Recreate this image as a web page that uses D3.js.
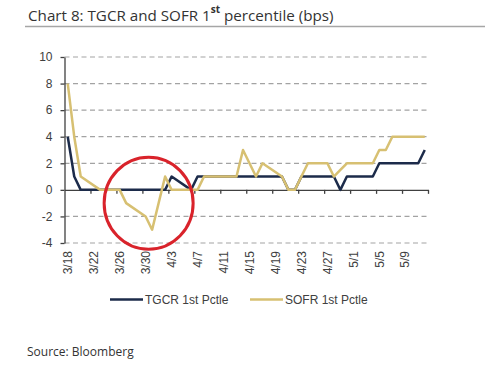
<!DOCTYPE html>
<html>
<head>
<meta charset="utf-8">
<script src="https://cdn.jsdelivr.net/npm/d3@7"></script>
<style>
  body { margin: 0; background: #fff; }
  svg { display: block; }
</style>
</head>
<body>
<svg></svg>
<script>
// business days, 2020
const dates = ['3/18', '3/19', '3/20', '3/23', '3/24', '3/25', '3/26', '3/27',
  '3/30', '3/31', '4/1', '4/2', '4/3', '4/6', '4/7', '4/8', '4/9', '4/10',
  '4/13', '4/14', '4/15', '4/16', '4/17', '4/20', '4/21', '4/22', '4/23', '4/24',
  '4/27', '4/28', '4/29', '4/30', '5/1', '5/4', '5/5', '5/6', '5/7', '5/8',
  '5/11', '5/12']
const tgcr = [4, 1, 0, 0, 0, 0, 0, 0,
  0, 0, 0, 0, 1, 0, 1, 1, 1, 1,
  1, 1, 1, 1, 1, 1, 0, 0, 1, 1,
  1, 1, 0, 1, 1, 1, 2, 2, 2, 2,
  2, 3]
const sofr = [8, 4, 1, 0, 0, 0, 0, -1,
  -2, -3, -1, 1, 0, 0, 0, 1, 1, 1,
  1, 3, 2, 1, 2, 1, 0, 0, 1, 2,
  2, 1, 1.5, 2, 2, 2, 3, 3, 4, 4,
  4, 4]
const xLabels = ['3/18', '3/22', '3/26', '3/30', '4/3', '4/7', '4/11', '4/15',
  '4/19', '4/23', '4/27', '5/1', '5/5', '5/9']
const yTicks = [-4, -2, 0, 2, 4, 6, 8, 10]
const lastDay = '5/12'

const width = 500
const height = 365
const navy = '#1c2b4a'
const gold = '#d7c072'
const ink = '#404040'

let parse = s => d3.utcParse('%Y/%m/%d')('2020/' + s)

let svg = d3.select('svg')
  .attr('width', width)
  .attr('height', height)

// days sit in the middle of their slot, ticks fall between slots
let xScale = d3.scaleUtc()
  .domain([d3.utcHour.offset(parse(dates[0]), -12), d3.utcHour.offset(parse(lastDay), 12)])
  .range([64.5, 428])

let yScale = d3.scaleLinear()
  .domain([-4, 10])
  .range([243, 57])

// gridlines
svg.append('g')
  .selectAll('line')
  .data(yTicks.filter(d => d !== 0))
  .enter()
  .append('line')
    .attr('x1', xScale.range()[0])
    .attr('x2', xScale.range()[1])
    .attr('y1', d => yScale(d))
    .attr('y2', d => yScale(d))
    .attr('stroke', '#a3a3a3')
    .attr('stroke-width', 1.2)
    .attr('stroke-dasharray', '5,3.5')

let yAxis = d3.axisLeft(yScale)
  .tickValues(yTicks)
  .tickSize(4)
  .tickSizeOuter(0)
  .tickPadding(8)
  .tickFormat(d => String(d))

let yG = svg.append('g')
  .attr('transform', `translate(${xScale.range()[0]}, 0)`)
  .call(yAxis)
yG.selectAll('path, line').attr('stroke', ink).attr('stroke-width', 1.3)
yG.selectAll('text')
  .attr('fill', ink)
  .style('font-family', '"Liberation Sans", Arial, sans-serif')
  .style('font-size', '12px')

let tickMarks = xLabels.slice(1).map(d => d3.utcHour.offset(parse(d), -12))
  .concat([xScale.domain()[1]])

let xAxis = d3.axisBottom(xScale)
  .tickValues(tickMarks)
  .tickSize(4)
  .tickSizeOuter(0)
  .tickFormat('')

let xG = svg.append('g')
  .attr('transform', `translate(0, ${yScale(0)})`)
  .call(xAxis)
xG.selectAll('path, line').attr('stroke', ink).attr('stroke-width', 1.3)

// rotated date labels below the plot
svg.append('g')
  .selectAll('text')
  .data(xLabels)
  .enter()
  .append('text')
    .attr('transform', d => `translate(${xScale(parse(d))}, ${yScale(-4) + 8}) rotate(-90)`)
    .attr('dy', '0.35em')
    .attr('text-anchor', 'end')
    .attr('fill', ink)
    .style('font-family', '"Liberation Sans", Arial, sans-serif')
    .style('font-size', '12px')
    .text(d => d)

let line = d3.line()
  .x((d, i) => xScale(parse(dates[i])))
  .y(d => yScale(d))

svg.append('path')
  .datum(tgcr)
  .attr('d', line)
  .attr('fill', 'none')
  .attr('stroke', navy)
  .attr('stroke-width', 2.5)
  .attr('stroke-linejoin', 'round')

svg.append('path')
  .datum(sofr)
  .attr('d', line)
  .attr('fill', 'none')
  .attr('stroke', gold)
  .attr('stroke-width', 2.5)
  .attr('stroke-linejoin', 'round')

// red circle round the end of March dip
svg.append('ellipse')
  .attr('cx', xScale(parse('3/30')) + 3)
  .attr('cy', yScale(-1))
  .attr('rx', 44.5)
  .attr('ry', 46)
  .attr('fill', 'none')
  .attr('stroke', '#d9232b')
  .attr('stroke-width', 3)

// title
let title = svg.append('text')
  .attr('x', 28)
  .attr('y', 21)
  .attr('fill', '#333')
  .style('font-family', '"Open Sans", sans-serif')
  .style('font-size', '15.2px')
title.append('tspan').text('Chart 8: TGCR and SOFR 1')
title.append('tspan')
  .attr('dy', -8.5)
  .style('font-size', '10px')
  .style('font-weight', 'bold')
  .text('st')
title.append('tspan')
  .attr('dy', 8.5)
  .text(' percentile (bps)')

svg.append('line')
  .attr('x1', 25)
  .attr('x2', 485)
  .attr('y1', 26.5)
  .attr('y2', 26.5)
  .attr('stroke', '#a6a6a6')
  .attr('stroke-width', 1.5)

// legend
let legend = [
  { name: 'TGCR 1st Pctle', color: navy, x: 110 },
  { name: 'SOFR 1st Pctle', color: gold, x: 250 }
]
let lg = svg.append('g')
  .selectAll('g')
  .data(legend)
  .enter()
  .append('g')
    .attr('transform', d => `translate(${d.x}, 299.5)`)
lg.append('line')
  .attr('x2', 33)
  .attr('stroke', d => d.color)
  .attr('stroke-width', 2.5)
lg.append('text')
  .attr('x', 35)
  .attr('dy', '0.35em')
  .attr('fill', ink)
  .style('font-family', '"Liberation Sans", Arial, sans-serif')
  .style('font-size', '12px')
  .text(d => d.name)

svg.append('text')
  .attr('x', 27)
  .attr('y', 356)
  .attr('fill', '#333')
  .style('font-family', '"Open Sans", sans-serif')
  .style('font-size', '12px')
  .text('Source: Bloomberg')
</script>
</body>
</html>
